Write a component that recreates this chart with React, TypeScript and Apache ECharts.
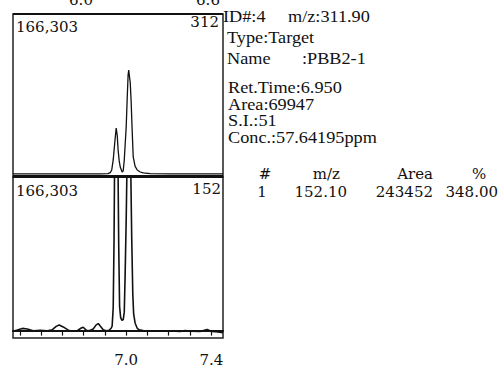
import React, { useEffect, useRef } from "react";
import * as echarts from "echarts";

// Retention time (min) and intensity for m/z 312 trace (upper panel)
const topTimes = [6.469, 6.643, 6.784, 6.878, 6.915, 6.925, 6.932, 6.939, 6.946, 6.953, 6.958, 6.962, 6.967, 6.972, 6.981, 6.986, 6.991, 6.995, 7.0, 7.005, 7.009, 7.012, 7.014, 7.019, 7.023, 7.028, 7.033, 7.042, 7.052, 7.066, 7.08, 7.113, 7.207, 7.347, 7.455];
const topIntensity = [300, 200, 300, 200, 500, 1500, 4300, 14700, 32000, 47900, 40000, 25000, 14000, 7400, 2200, 3500, 14700, 30000, 48900, 80000, 103000, 108100, 104000, 95000, 77000, 45800, 17800, 8000, 4300, 2200, 1200, 600, 300, 200, 300];

// Retention time (min) and intensity for m/z 152 trace (lower panel)
const bottomTimes = [6.469, 6.488, 6.512, 6.535, 6.563, 6.596, 6.629, 6.653, 6.671, 6.685, 6.704, 6.728, 6.751, 6.77, 6.789, 6.798, 6.812, 6.826, 6.845, 6.859, 6.869, 6.878, 6.892, 6.906, 6.92, 6.93, 6.934, 6.939, 6.943, 6.945, 6.953, 6.962, 6.965, 6.969, 6.974, 6.98, 6.986, 6.991, 6.995, 7.0, 7.003, 7.012, 7.022, 7.026, 7.031, 7.035, 7.042, 7.052, 7.061, 7.08, 7.113, 7.16, 7.207, 7.254, 7.277, 7.3, 7.347, 7.38, 7.404, 7.432, 7.455];
const bottomIntensity = [-600, 700, 2400, 1800, -100, 300, -100, 1000, 4600, 6000, 4000, 450, -600, -100, 2800, 3600, 450, -100, 1800, 6200, 7600, 5000, 1000, -100, 450, 2800, 5000, 25000, 100000, 166000, 200000, 166000, 90000, 26000, 14000, 11000, 12000, 20000, 60000, 120000, 166000, 380000, 166000, 100000, 40000, 18000, 8000, 2500, 800, 100, -300, -600, -400, -800, 200, -700, -900, 1200, -900, -1500, -2400];

const tickValues = [6.5, 6.6, 6.7, 6.8, 6.9, 7.0, 7.1, 7.2, 7.3, 7.4];
const labelValues = [7.0, 7.4];
const fullScale = 166303;

const infoLines = [
  { text: "ID#:4", x: 223, y: 17 },
  { text: "m/z:311.90", x: 288, y: 17 },
  { text: "Type:Target", x: 227, y: 38 },
  { text: "Name", x: 227, y: 59 },
  { text: ":PBB2-1", x: 302, y: 59 },
  { text: "Ret.Time:6.950", x: 228, y: 88 },
  { text: "Area:69947", x: 228, y: 105 },
  { text: "S.I.:51", x: 228, y: 121 },
  { text: "Conc.:57.64195ppm", x: 228, y: 138 },
];

const tableHeader = ["#", "m/z", "Area", "%"];
const tableRow = ["1", "152.10", "243452", "348.00"];

export default function App() {
  const ref = useRef<HTMLDivElement>(null);
  useEffect(() => {
    if (!ref.current) return;
    const chart = echarts.init(ref.current, null, { renderer: "svg" });
    const serif = "'Liberation Serif', 'Times New Roman', serif";
    const serif2 = "'DejaVu Serif', serif";
    const ink = "#111";
    const graphics: any[] = [];
    infoLines.forEach((l) =>
      graphics.push({
        type: "text",
        x: l.x,
        y: l.y,
        scaleX: 1.14,
        style: { text: l.text, font: `16px ${serif}`, fill: ink, textAlign: "left", textVerticalAlign: "middle" },
      })
    );
    const hx = [265, 340, 433, 479];
    const ha = ["center", "right", "right", "center"];
    tableHeader.forEach((t, i) =>
      graphics.push({
        type: "text",
        x: hx[i],
        y: 174,
        style: { text: t, font: `15px ${serif2}`, fill: ink, textAlign: ha[i], textVerticalAlign: "middle" },
      })
    );
    const rx = [262, 347, 433, 498];
    const ra = ["center", "right", "right", "right"];
    tableRow.forEach((t, i) =>
      graphics.push({
        type: "text",
        x: rx[i],
        y: 192,
        style: { text: t, font: `15px ${serif2}`, fill: ink, textAlign: ra[i], textVerticalAlign: "middle" },
      })
    );
    const scaleLabel = fullScale.toLocaleString("en-US");
    graphics.push(
      { type: "text", x: 16, y: 27, style: { text: scaleLabel, font: `15px ${serif2}`, fill: ink, textAlign: "left", textVerticalAlign: "middle" } },
      { type: "text", x: 219, y: 22, style: { text: "312", font: `15px ${serif2}`, fill: ink, textAlign: "right", textVerticalAlign: "middle" } },
      { type: "text", x: 16, y: 191, style: { text: scaleLabel, font: `15px ${serif2}`, fill: ink, textAlign: "left", textVerticalAlign: "middle" } },
      { type: "text", x: 221, y: 189, style: { text: "152", font: `15px ${serif2}`, fill: ink, textAlign: "right", textVerticalAlign: "middle" } },
      // labels of the panel above, cut off at the top edge as in the reference
      { type: "text", x: 81, y: 0, style: { text: "6.0", font: `15px ${serif2}`, fill: ink, textAlign: "center", textVerticalAlign: "middle" } },
      { type: "text", x: 208, y: 0, style: { text: "6.6", font: `15px ${serif2}`, fill: ink, textAlign: "center", textVerticalAlign: "middle" } },
      { type: "line", shape: { x1: 13, y1: 176.5, x2: 223, y2: 176.5 }, style: { stroke: ink, lineWidth: 3 } },
      { type: "line", shape: { x1: 13, y1: 14, x2: 223, y2: 14 }, style: { stroke: ink, lineWidth: 1.8 } }
    );

    chart.setOption({
      animation: false,
      backgroundColor: "#fff",
      grid: [
        { left: 13, top: 14, width: 210, height: 163, show: true, borderColor: "#222", borderWidth: 1.5, backgroundColor: "transparent" },
        { left: 13, top: 177, width: 210, height: 165, show: true, borderColor: "#222", borderWidth: 1.5, backgroundColor: "transparent" },
      ],
      xAxis: [
        {
          gridIndex: 0, type: "value", min: 6.468, max: 7.455,
          axisLine: { show: false }, axisTick: { show: false }, axisLabel: { show: false }, splitLine: { show: false },
        },
        {
          gridIndex: 1, type: "value", min: 6.468, max: 7.455,
          axisLine: { show: true, lineStyle: { color: ink, width: 2 } },
          axisTick: { show: true, customValues: tickValues, length: 5, inside: false, lineStyle: { color: ink, width: 1.2 } },
          axisLabel: {
            show: true, customValues: labelValues, margin: 14, color: ink,
            fontFamily: "DejaVu Serif", fontSize: 15,
            formatter: (v: number) => v.toFixed(1),
          },
          splitLine: { show: false },
        },
      ],
      yAxis: [
        { gridIndex: 0, type: "value", min: -3000, max: fullScale, show: false, splitLine: { show: false } },
        { gridIndex: 1, type: "value", min: -8000, max: fullScale, show: false, splitLine: { show: false } },
      ],
      series: [
        {
          type: "line", xAxisIndex: 0, yAxisIndex: 0, showSymbol: false, clip: true, silent: true,
          data: topTimes.map((t, i) => [t, topIntensity[i]]),
          lineStyle: { color: ink, width: 1.3 },
        },
        {
          type: "line", xAxisIndex: 1, yAxisIndex: 1, showSymbol: false, clip: true, silent: true,
          data: bottomTimes.map((t, i) => [t, bottomIntensity[i]]),
          lineStyle: { color: ink, width: 1.6 },
        },
      ],
      graphic: graphics,
    });
    return () => chart.dispose();
  }, []);
  return (
    <div
      ref={ref}
      style={{ position: "fixed", left: 0, top: 0, width: 502, height: 367, background: "#fff" }}
    />
  );
}
